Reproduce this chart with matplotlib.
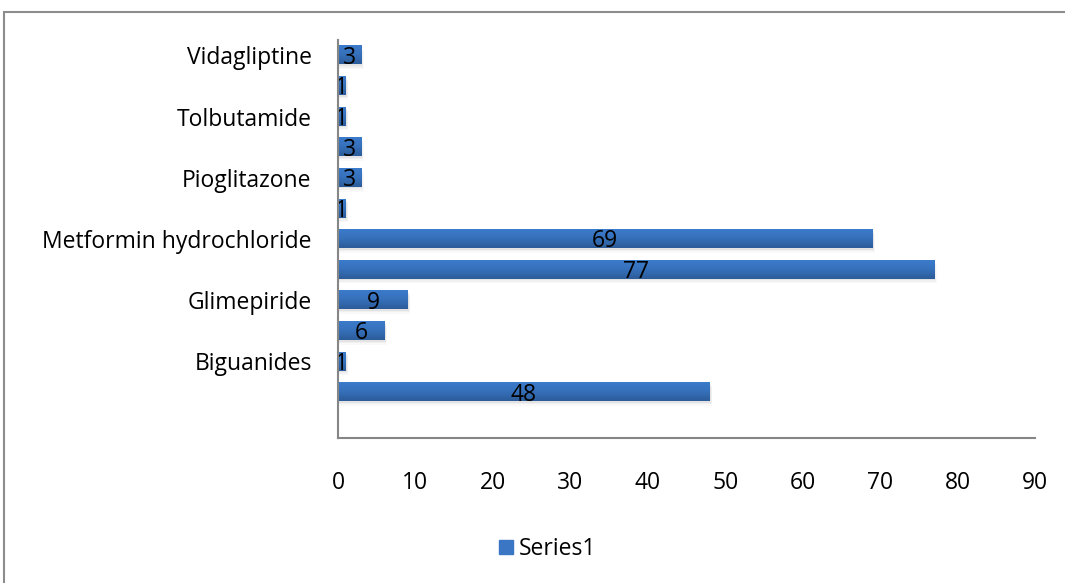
"""Horizontal bar chart of antidiabetic drug counts (Excel-like styling)."""
import matplotlib
matplotlib.use("Agg")
import numpy as np
import matplotlib.pyplot as plt
import matplotlib.patches as mpatches
from matplotlib.colors import LinearSegmentedColormap

# bottom to top; the first row is an empty category, only every other label is shown
categories = ["", "", "Biguanides", "", "Glimepiride", "", "Metformin hydrochloride",
              "", "Pioglitazone", "", "Tolbutamide", "", "Vidagliptine"]
values = [None, 48, 1, 6, 9, 77, 69, 1, 3, 3, 1, 1, 3]
x_ticks = [0, 10, 20, 30, 40, 50, 60, 70, 80, 90]
series_name = "Series1"

BAR = "#3a76c4"
AXIS = "#868686"
bar_cmap = LinearSegmentedColormap.from_list("bar", ["#2c5c99", "#3670ba", "#3b7bcb"])

plt.rcParams["font.family"] = ["Open Sans", "DejaVu Sans"]
FS = 16.5

fig = plt.figure(figsize=(10.65, 5.83), dpi=100)
ax = fig.add_axes([0.3174, 0.2487, 0.6544, 0.6827])

idx = [i for i, v in enumerate(values) if v is not None]
vals = [values[i] for i in idx]
h = 0.6
grad = np.linspace(0, 1, 32).reshape(-1, 1)

# soft drop shadow under each bar
for k, a in enumerate((0.10, 0.07, 0.04)):
    off = 0.05 + 0.05 * k
    ax.barh([i - off for i in idx], [v + 0.15 + 0.1 * k for v in vals], height=h,
            color="#7f7f7f", alpha=a, linewidth=0, zorder=1)

# bars with a vertical gradient: darker at the bottom edge
bars = ax.barh(idx, vals, height=h, color=BAR, linewidth=0, zorder=2)
for b in bars:
    x0, y0 = b.get_x(), b.get_y()
    ax.imshow(grad, cmap=bar_cmap, origin="lower", aspect="auto", interpolation="bilinear",
              extent=(x0, x0 + b.get_width(), y0, y0 + b.get_height()), zorder=3)

for i, v in zip(idx, vals):
    ax.text(v / 2, i - 0.08, str(v), ha="center", va="center", fontsize=FS,
            color="black", zorder=4)

ax.set_xlim(0, 90)
ax.set_ylim(-0.5, len(categories) - 0.5)
ax.set_xticks(x_ticks)
ax.set_xticklabels([str(t) for t in x_ticks], fontsize=FS)
ax.set_yticks(range(len(categories)))
ax.set_yticklabels(categories, fontsize=FS)
ax.tick_params(axis="x", length=0, pad=24)
ax.tick_params(axis="y", length=0, pad=19)

for s in ("top", "right"):
    ax.spines[s].set_visible(False)
for s in ("left", "bottom"):
    ax.spines[s].set_color(AXIS)
    ax.spines[s].set_linewidth(1.5)
    ax.spines[s].set_zorder(5)

handle = mpatches.Patch(color=BAR, label=series_name)
fig.legend(handles=[handle], loc="center", bbox_to_anchor=(0.514, 0.058),
           frameon=False, fontsize=FS, handlelength=0.6, handleheight=0.6,
           handletextpad=0.25)

# outer chart-area border running off the right and bottom edges
frame = mpatches.Rectangle((0.004, -0.05), 1.1, 1.03, transform=fig.transFigure,
                           fill=False, edgecolor="#8c8c8c", linewidth=1.5)
fig.patches.append(frame)

fig.savefig("out.png", dpi=100, facecolor="white")
